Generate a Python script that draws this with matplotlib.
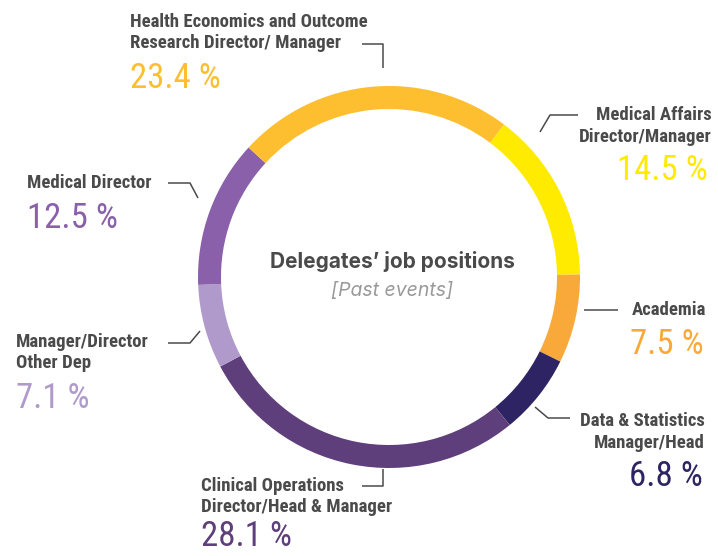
import matplotlib
matplotlib.use('Agg')
from matplotlib import pyplot as plt
from matplotlib import font_manager

# data, clockwise starting from the top-right slice
labels = [
    "Medical Affairs\nDirector/Manager",
    "Academia",
    "Data & Statistics\nManager/Head",
    "Clinical Operations\nDirector/Head & Manager",
    "Manager/Director\nOther Dep",
    "Medical Director",
    "Health Economics and Outcome\nResearch Director/ Manager",
]
shares = [14.5, 7.5, 6.8, 28.1, 7.1, 12.5, 23.4]
colors = ['#FFEB00', '#F9A93A', '#2E2463', '#5F3F7B', '#B09ACB', '#8960A9', '#FDBF2F']

title = u"Delegates\u2019 job positions"
subtitle = "[Past events]"

W, H = 718, 556
CX, CY, R = 389, 277, 191

installed = set(f.name for f in font_manager.fontManager.ttflist)


def pick(*names):
    for n in names:
        if n in installed:
            return n
    return 'DejaVu Sans'


LABEL_FONT = pick('Roboto Condensed', 'Roboto', 'Lato', 'DejaVu Sans')
PCT_FONT = pick('Roboto Condensed', 'Liberation Sans Narrow', 'DejaVu Sans Condensed', 'Roboto')
TITLE_FONT = pick('Inter', 'Roboto', 'DejaVu Sans')
TXT = '#4A4A4A'

fig = plt.figure(figsize=(W / 100, H / 100), dpi=100)
ax = fig.add_axes([0, 0, 1, 1])
ax.set_xlim(0, W)
ax.set_ylim(0, H)
ax.set_aspect('equal')
ax.axis('off')


def py(y):
    # pixel row from the top -> data y
    return H - y


ax.pie(shares, colors=colors, startangle=53, counterclock=False,
       center=(CX, py(CY)), radius=R, wedgeprops=dict(width=23, linewidth=0))
ax.set_xlim(0, W)
ax.set_ylim(0, H)

# label placement: (label x, first-line y, align, pct x, pct y, leader points)
places = [
    (712, 115, 'right', 708, 171, [(578, 115), (550, 115), (540, 132)]),
    (706, 310, 'right', 704, 344, [(584, 310), (618, 310)]),
    (705, 421, 'right', 703, 477, [(535, 407), (548, 418), (570, 418)]),
    (201, 486, 'left', 201, 537, [(362, 486), (383, 486), (383, 469)]),
    (16, 342, 'left', 16, 398, [(168, 343), (190, 343), (200, 331)]),
    (27, 183, 'left', 27, 218, [(168, 183), (190, 183), (198, 198)]),
    (130, 22, 'left', 130, 78, [(362, 44), (383, 44), (383, 68)]),
]

for lab, share, col, (lx, ly, ha, px, ppy, pts) in zip(labels, shares, colors, places):
    for i, line in enumerate(lab.split('\n')):
        ax.text(lx, py(ly + i * 21.5), line, ha=ha, va='center',
                fontsize=13.5, fontweight='bold', color=TXT, family=LABEL_FONT)
    ax.text(px, py(ppy), "%.1f %%" % share, ha=ha, va='center',
            fontsize=25, color=col, family=PCT_FONT)
    ax.plot([p[0] for p in pts], [py(p[1]) for p in pts], color=TXT, linewidth=1.1,
            solid_capstyle='butt')

ax.text(392, py(262), title, ha='center', va='center', fontsize=15,
        fontweight='bold', color=TXT, family=TITLE_FONT)
ax.text(392, py(291), subtitle, ha='center', va='center', fontsize=14,
        style='italic', color='#9A9A9A', family=TITLE_FONT)

fig.savefig('out.png', dpi=100)
